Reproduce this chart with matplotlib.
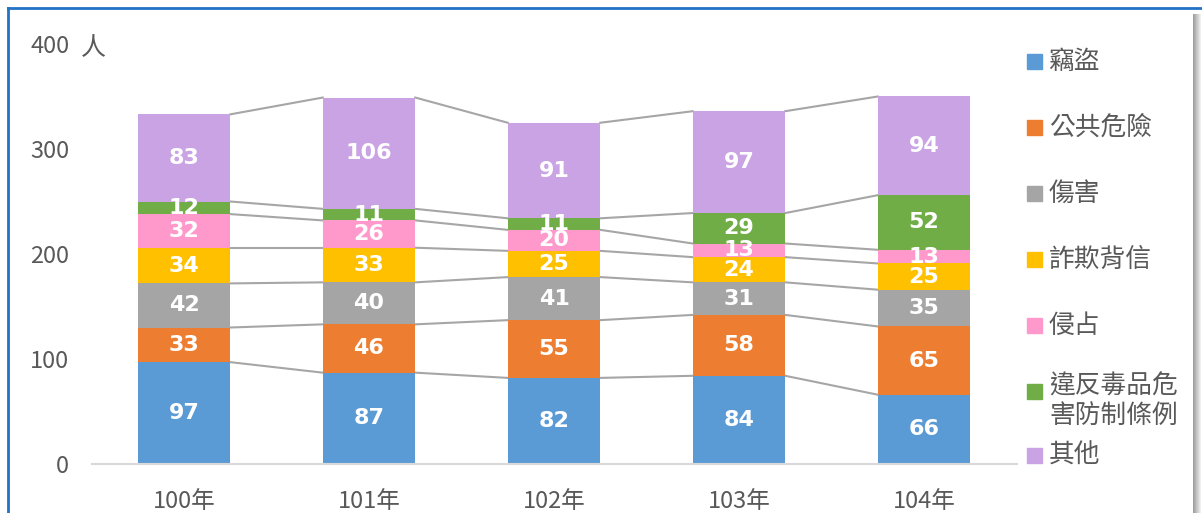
import numpy as np
import matplotlib.pyplot as plt
from matplotlib.patches import Rectangle
from matplotlib.lines import Line2D

plt.rcParams['font.family'] = ['Noto Sans CJK TC', 'DejaVu Sans']

years = ['100年', '101年', '102年', '103年', '104年']
series = ['竊盜', '公共危險', '傷害', '詐欺背信', '侵占', '違反毒品危\n害防制條例', '其他']
theft = [97, 87, 82, 84, 66]
public_danger = [33, 46, 55, 58, 65]
injury = [42, 40, 41, 31, 35]
fraud = [34, 33, 25, 24, 25]
embezzle = [32, 26, 20, 13, 13]
drugs = [12, 11, 11, 29, 52]
other = [83, 106, 91, 97, 94]
values = [theft, public_danger, injury, fraud, embezzle, drugs, other]
colors = ['#5B9BD5', '#ED7D31', '#A5A5A5', '#FFC000', '#FF99CC', '#70AD47', '#C9A3E3']

W, H = 1202, 513
fig = plt.figure(figsize=(W / 100, H / 100), dpi=100)
ax = fig.add_axes([91.5 / W, 1 - 464 / H, 925 / W, 420 / H])

x = np.arange(len(years))
bw = 0.5
bottom = np.zeros(len(years))
for vals, c in zip(values, colors):
    vals = np.array(vals)
    ax.bar(x, vals, bw, bottom=bottom, color=c, zorder=2)
    top = bottom + vals
    for i in range(len(x) - 1):
        ax.plot([x[i] + bw / 2, x[i + 1] - bw / 2], [top[i], top[i + 1]],
                color='#A6A6A6', lw=1.5, zorder=1)
    for xi, b, v in zip(x, bottom, vals):
        ax.text(xi, b + v / 2, str(v), ha='center', va='center', color='white',
                fontsize=16, fontweight='bold', family='DejaVu Sans', zorder=3)
    bottom = top

ax.set_xlim(-0.5, 4.5)
ax.set_ylim(0, 400)
ax.set_yticks([0, 100, 200, 300, 400])
ax.set_xticks(x)
ax.set_xticklabels(years)
for s in ['top', 'right', 'left']:
    ax.spines[s].set_visible(False)
ax.spines['bottom'].set_color('#D9D9D9')
ax.spines['bottom'].set_linewidth(1.5)
ax.tick_params(length=0, labelsize=17, colors='#595959')
ax.tick_params(axis='y', pad=16)
ax.tick_params(axis='x', pad=19)
fig.text(81 / W, 1 - 48 / H, '人', fontsize=18, color='#595959', va='center')

# legend
ys = [62, 128, 194, 260, 326, 392, 456]
for lab, c, yy in zip(series, colors, ys):
    fig.patches.append(Rectangle((1027 / W, 1 - (yy + 7) / H), 15 / W, 15 / H,
                                 transform=fig.transFigure, color=c))
    fig.text(1049 / W, 1 - yy / H, lab, fontsize=18.5, color='#595959',
             va='top' if '\n' in lab else 'center', linespacing=1.2,
             transform=fig.transFigure)
fig.texts[-2].set_position((1049 / W, 1 - (yy - 66 - 17) / H))

# frame
fig.add_artist(Line2D([8 / W, 8 / W], [0, 1 - 8 / H], color='#2272C8', lw=2,
                      transform=fig.transFigure))
fig.add_artist(Line2D([8 / W, 1], [1 - 8 / H, 1 - 8 / H], color='#2272C8', lw=2,
                      transform=fig.transFigure))
for k in range(8):
    fig.patches.append(Rectangle(((1193 + k) / W, 0), 1 / W, 1 - 14 / H,
                                 transform=fig.transFigure,
                                 color=str(0.62 + 0.045 * k), lw=0))

fig.savefig('out.png', dpi=100)
